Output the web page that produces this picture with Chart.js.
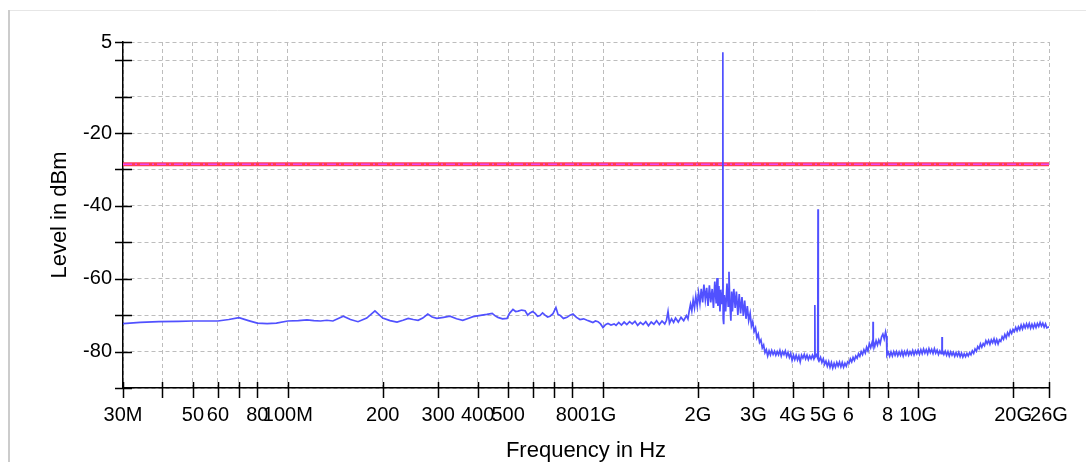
<!DOCTYPE html>
<html>
<head>
    <title>Spectrum</title>
    <script src="https://cdn.jsdelivr.net/npm/chart.js"></script>
    <style>
        body { margin: 0; background: #fff; }
    </style>
</head>
<body>
    <canvas id="myChart" width="1086" height="462"></canvas>
    <script>
        // measured trace, frequency in MHz / level in dBm
        const freqMHz = [
            30, 34, 39, 45, 50, 55, 60, 65, 70, 75, 80, 86, 92, 100, 108, 115, 121, 127, 133, 139,
            150, 158, 167, 178, 189, 200, 211, 222, 232, 241, 250, 259, 268, 278, 287, 297, 312, 327, 343, 359,
            373, 387, 400, 413, 428, 445, 455, 464, 480, 496, 505, 518, 528, 538, 552, 566, 577, 587, 598, 609,
            620, 631, 643, 655, 667, 679, 694, 709, 720, 730, 749, 769, 786, 803, 824, 845, 868, 890, 910, 929,
            946, 964, 982, 1000, 1018, 1037, 1060, 1085,
            1100, 1122, 1144, 1167, 1190, 1214, 1238, 1263, 1288, 1314,
            1340, 1367, 1394, 1422, 1450, 1479, 1509, 1539, 1570, 1590,
            1608, 1625, 1650, 1675, 1699, 1733, 1768, 1803, 1839, 1860,
            1876, 1895, 1913, 1932, 1951, 1970, 1990, 2010, 2030, 2050,
            2071, 2090, 2112, 2133, 2154, 2175, 2197, 2220, 2241, 2263,
            2286, 2300, 2315, 2332, 2350, 2365, 2378, 2395, 2400, 2405,
            2415, 2426, 2450, 2474, 2495, 2510, 2524, 2545, 2560, 2574,
            2600, 2626, 2650, 2678, 2705, 2732, 2760, 2787, 2815, 2842,
            2870, 2899, 2930, 2957, 2985, 3016, 3047, 3077, 3108, 3138,
            3170, 3201, 3233, 3265, 3297, 3330, 3364, 3397, 3430, 3465,
            3500, 3534, 3570, 3605, 3641, 3677, 3713, 3750, 3788, 3825,
            3863, 3902, 3940, 3980, 4020, 4059, 4100, 4141, 4182, 4223,
            4265, 4308, 4350, 4394, 4438, 4482, 4527, 4572, 4617, 4663,
            4692, 4700, 4708, 4756, 4800, 4810, 4820, 4851, 4900, 4948,
            4998, 5047, 5097, 5148, 5200, 5251, 5304, 5356, 5410, 5463,
            5518, 5572, 5628, 5684, 5740, 5797, 5855, 5913, 5972, 6032,
            6092, 6152, 6214, 6275, 6338, 6401, 6465, 6529, 6594, 6659,
            6725, 6792, 6860, 6928, 6997, 7067, 7140, 7185, 7190, 7196,
            7208, 7280, 7352, 7425, 7499, 7574, 7649, 7725, 7802, 7880,
            7930, 7958, 8037, 8117, 8198, 8280, 8362, 8445, 8530, 8614,
            8700, 8786, 8874, 8962, 9050, 9141, 9232, 9324, 9418, 9511,
            9606, 9701, 9798, 9895, 9994, 10093, 10194, 10295, 10398, 10501,
            10606, 10711, 10818, 10925, 11034, 11144, 11255, 11366, 11480, 11594,
            11710, 11826, 11895, 11900, 11905, 11942, 12062, 12182, 12303, 12426,
            12549, 12675, 12800, 12928, 13056, 13186, 13317, 13450, 13584, 13720,
            13855, 13993, 14132, 14273, 14415, 14559, 14703, 14850, 14997, 15146,
            15297, 15450, 15603, 15758, 15915, 16074, 16234, 16395, 16558, 16723,
            16890, 17058, 17227, 17399, 17572, 17747, 17923, 18102, 18282, 18463,
            18647, 18832, 19020, 19210, 19401, 19594, 19789, 19986, 20185, 20386,
            20588, 20793, 21000, 21209, 21420, 21633, 21848, 22065, 22285, 22507,
            22731, 22957, 23186, 23416, 23649, 23884, 24122, 24362, 24605, 24850,
            25097, 25350, 25599, 26000
        ];
        const levelDbm = [
            -72.3, -72.0, -71.8, -71.7, -71.6, -71.6, -71.6, -71.2, -70.7, -71.5, -72.2, -72.3, -72.2, -71.6, -71.5, -71.3, -71.5, -71.6, -71.4, -71.6,
            -70.3, -71.2, -71.8, -70.8, -68.8, -70.8, -71.5, -71.9, -71.4, -70.9, -71.2, -71.4, -70.8, -69.7, -70.5, -70.9, -70.6, -70.3, -71.0, -71.4,
            -70.9, -70.4, -70.2, -70.0, -69.8, -69.5, -70.2, -70.6, -71.0, -70.9, -69.5, -68.4, -69.0, -68.9, -68.6, -68.8, -70.0, -69.4, -69.0, -69.5,
            -70.3, -70.1, -69.4, -70.0, -70.5, -70.3, -69.6, -67.9, -69.8, -70.0, -70.9, -70.6, -70.0, -69.7, -70.6, -71.2, -71.0, -71.4, -71.7, -72.0,
            -71.6, -71.8, -72.4, -73.4, -72.6, -72.3, -72.7, -72.4,
            -72.8, -72.0, -72.7, -71.9, -72.6, -71.8, -72.4, -71.7, -72.8, -72.0,
            -72.6, -71.8, -72.9, -71.9, -72.5, -71.5, -72.6, -71.6, -72.4, -71.4,
            -69.0, -72.2, -71.0, -72.0, -70.8, -71.9, -70.6, -71.5, -70.1, -71.0,
            -69.0, -67.0, -68.8, -65.8, -68.0, -64.8, -67.5, -63.9, -66.8, -62.8,
            -66.5, -61.6, -65.8, -62.5, -67.5, -61.8, -66.5, -62.8, -68.0, -60.8,
            -66.8, -59.8, -67.5, -62.0, -69.0, -63.0, -67.0, -64.0, 2.2, -71.0,
            -72.5, -64.5, -69.0, -61.3, -67.5, -58.1, -66.0, -71.5, -63.5, -69.0,
            -62.8, -68.0, -63.5, -70.0, -64.2, -69.5, -65.0, -70.2, -66.0, -71.0,
            -67.5, -71.5, -69.5, -73.0, -71.8, -74.5, -73.5, -76.2, -75.2, -77.5,
            -76.8, -79.0, -78.2, -80.3, -79.5, -81.2, -79.8, -80.9, -79.7, -80.8,
            -79.9, -81.0, -80.0, -80.9, -79.7, -81.2, -80.0, -80.8, -79.8, -81.3,
            -80.2, -81.6, -80.5, -82.4, -81.0, -82.2, -81.0, -82.3, -81.2, -82.8,
            -81.0, -81.8, -80.8, -82.0, -81.0, -82.2, -81.2, -82.0, -81.0, -82.0,
            -81.0, -67.2, -81.5, -80.9, -81.8, -40.9, -81.6, -82.5, -81.6, -83.0,
            -82.0, -83.5, -82.6, -84.0, -82.8, -84.3, -83.0, -84.5, -83.2, -84.3,
            -83.0, -84.0, -82.9, -84.2, -83.0, -84.3, -83.2, -84.0, -82.8, -83.2,
            -82.0, -82.8, -81.6, -82.4, -81.2, -81.8, -80.6, -81.3, -80.0, -80.8,
            -79.5, -80.4, -78.8, -79.8, -77.8, -78.9, -77.5, -78.4, -71.8, -78.0,
            -77.0, -78.6, -77.0, -78.2, -76.8, -77.8, -76.0, -75.2, -76.5, -74.6,
            -75.8, -81.0, -80.2, -81.3, -80.1, -81.2, -80.0, -81.0, -80.0, -81.1,
            -80.1, -81.0, -79.9, -81.2, -80.0, -80.9, -79.8, -81.0, -80.0, -80.8,
            -79.7, -80.9, -79.8, -80.6, -79.6, -80.7, -79.5, -80.6, -79.3, -80.4,
            -79.5, -80.6, -79.2, -80.3, -79.4, -80.5, -79.2, -80.4, -79.6, -80.8,
            -79.8, -80.6, -79.8, -76.0, -80.2, -79.6, -80.8, -79.9, -81.0, -80.0,
            -81.2, -80.1, -81.0, -80.2, -81.3, -80.3, -81.2, -80.2, -81.4, -80.4,
            -81.5, -80.6, -81.4, -80.5, -81.2, -80.3, -80.9, -79.8, -80.5, -79.3,
            -79.9, -78.6, -79.2, -77.9, -78.8, -77.8, -78.4, -77.0, -77.8, -76.9,
            -78.0, -76.8, -77.6, -76.5, -77.8, -76.7, -77.9, -76.8, -77.2, -75.9,
            -76.6, -75.3, -76.2, -74.8, -75.6, -74.2, -75.0, -73.9, -74.5, -73.4,
            -74.3, -73.2, -74.0, -72.7, -73.8, -72.6, -73.5, -72.4, -73.4, -72.3,
            -73.6, -72.5, -73.5, -72.4, -73.4, -72.3, -73.1, -72.0, -73.0, -72.2,
            -73.3, -72.4, -73.5, -73.2
        ];

        // limit line
        const limitFreq = [30, 26000];
        const limitLevel = [-28.6, -28.6];

        const xTickValues = [30, 40, 50, 60, 70, 80, 100, 200, 300, 400, 500, 600, 700, 800, 1000,
            2000, 3000, 4000, 5000, 6000, 7000, 8000, 10000, 20000, 26000];
        const xTickLabels = ['30M', '', '50', '60', '', '80', '100M', '200', '300', '400', '500', '', '', '800', '1G',
            '2G', '3G', '4G', '5G', '6', '', '8', '10G', '20G', '26G'];
        const yTickValues = [5, 0, -10, -20, -30, -40, -50, -60, -70, -80, -90];
        const yTickLabels = ['5', '', '', '-20', '', '-40', '', '-60', '', '-80', ''];

        const traceData = freqMHz.map((f, i) => ({ x: f, y: levelDbm[i] }));
        const limitData = limitFreq.map((f, i) => ({ x: f, y: limitLevel[i] }));

        // panel frame + crossing tick marks
        const framePlugin = {
            id: 'frame',
            beforeDraw(chart) {
                const c = chart.ctx;
                c.save();
                c.fillStyle = '#fff';
                c.fillRect(0, 0, chart.width, chart.height);
                c.strokeStyle = '#e6e6e6';
                c.lineWidth = 1;
                c.beginPath();
                c.moveTo(8, 10.5);
                c.lineTo(chart.width, 10.5);
                c.stroke();
                c.strokeStyle = '#cccccc';
                c.lineWidth = 2;
                c.beginPath();
                c.moveTo(9, 10);
                c.lineTo(9, chart.height);
                c.stroke();
                c.restore();
            },
            afterDraw(chart) {
                const c = chart.ctx;
                const xs = chart.scales.x, ys = chart.scales.y;
                const a = chart.chartArea;
                c.save();
                c.strokeStyle = '#000';
                c.lineWidth = 1.5;
                c.beginPath();
                yTickValues.forEach(v => {
                    const py = Math.round(ys.getPixelForValue(v)) + 0.5;
                    c.moveTo(a.left - 8, py);
                    c.lineTo(a.left + 9, py);
                });
                xTickValues.forEach(v => {
                    const px = Math.round(xs.getPixelForValue(v)) + 0.5;
                    c.moveTo(px, a.bottom - 6);
                    c.lineTo(px, a.bottom + 10);
                });
                c.stroke();
                c.restore();
            }
        };

        const ctx = document.getElementById('myChart').getContext('2d');
        new Chart(ctx, {
            type: 'line',
            data: {
                datasets: [{
                    label: 'Level',
                    data: traceData,
                    borderColor: 'rgba(72, 72, 255, 0.95)',
                    borderWidth: 1.7,
                    pointRadius: 0,
                    tension: 0,
                    order: 0
                }, {
                    label: 'Limit',
                    data: limitData,
                    borderColor: 'rgb(255, 60, 85)',
                    borderWidth: 4,
                    pointRadius: 0,
                    order: 2
                }, {
                    label: 'Limit dash',
                    data: limitData,
                    borderColor: 'rgb(235, 70, 240)',
                    borderWidth: 1.5,
                    borderDash: [9, 3, 2, 3],
                    pointRadius: 0,
                    order: 1
                }]
            },
            options: {
                responsive: false,
                animation: false,
                devicePixelRatio: 1,
                layout: { padding: { left: 0, top: 42, right: 37, bottom: 0 } },
                plugins: {
                    legend: { display: false },
                    tooltip: { enabled: false }
                },
                scales: {
                    x: {
                        type: 'logarithmic',
                        min: 30,
                        max: 26000,
                        afterBuildTicks: s => { s.ticks = xTickValues.map(v => ({ value: v })); },
                        afterFit: s => { s.height = 74; },
                        ticks: {
                            autoSkip: false,
                            maxRotation: 0,
                            padding: 15,
                            color: '#000',
                            font: { family: 'Liberation Sans', size: 20 },
                            callback: (v, i) => xTickLabels[i]
                        },
                        grid: {
                            color: '#bdbdbd',
                            lineWidth: 1,
                            drawTicks: false
                        },
                        border: { display: true, color: '#000', width: 1.5, dash: [4, 3] },
                        title: {
                            display: true,
                            text: 'Frequency in Hz',
                            color: '#000',
                            font: { family: 'Liberation Sans', size: 22, lineHeight: 1 },
                            padding: 0
                        }
                    },
                    y: {
                        min: -90,
                        max: 5,
                        afterBuildTicks: s => { s.ticks = yTickValues.map(v => ({ value: v })); },
                        afterFit: s => { s.width = 123; },
                        ticks: {
                            autoSkip: false,
                            padding: 11,
                            color: '#000',
                            font: { family: 'Liberation Sans', size: 20 },
                            callback: (v, i) => yTickLabels[i]
                        },
                        grid: {
                            color: '#bdbdbd',
                            lineWidth: 1,
                            drawTicks: false
                        },
                        border: { display: true, color: '#000', width: 1.5, dash: [4, 3] },
                        title: {
                            display: true,
                            text: 'Level in dBm',
                            color: '#000',
                            font: { family: 'Liberation Sans', size: 22, lineHeight: 1.2 },
                            padding: { top: 47, bottom: 0 }
                        }
                    }
                }
            },
            plugins: [framePlugin]
        });
    </script>
</body>
</html>
